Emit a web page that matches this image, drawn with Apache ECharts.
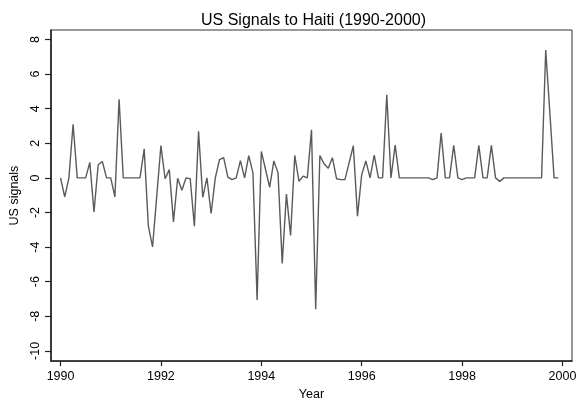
<!DOCTYPE html>
<html>
<head>
<meta charset="utf-8">
<script src="https://cdn.jsdelivr.net/npm/echarts@6/dist/echarts.min.js"></script>
<style>html,body{margin:0;padding:0;background:#fff;}#c{width:580px;height:406px;}</style>
</head>
<body>
<div id="c"></div>
<script>
// Monthly US signals, Jan 1990 .. Dec 1999
var startYear = 1990;
var signals = [
  0, -1.1, 0, 3.1, 0, 0, 0, 0.9, -1.97, 0.76, 0.95, 0,
  0, -1.1, 4.55, 0, 0, 0, 0, 0, 1.68, -2.79, -3.99, -1.05,
  1.87, -0.05, 0.48, -2.54, -0.02, -0.71, 0, -0.05, -2.79, 2.69, -1.12, 0,
  -2.06, 0, 1.05, 1.17, 0.05, -0.1, 0, 1.0, 0, 1.29, 0.29, -7.05,
  1.53, 0.5, -0.54, 0.98, 0.29, -4.94, -0.94, -3.33, 1.3, -0.19, 0.1, 0,
  2.78, -7.59, 1.29, 0.82, 0.56, 1.17, -0.05, -0.1, -0.1, 0.88, 1.86, -2.21,
  0.19, 0.98, 0, 1.32, 0, 0, 4.8, 0, 1.9, 0, 0, 0,
  0, 0, 0, 0, 0, -0.1, 0, 2.59, 0, 0, 1.88, 0,
  -0.1, 0, 0, 0, 1.88, 0, 0, 1.88, 0, -0.2, 0, 0,
  0, 0, 0, 0, 0, 0, 0, 0, 7.39, 3.7, 0, 0
];
var xTicks = [1990, 1992, 1994, 1996, 1998, 2000];
var yTicks = [-10, -8, -6, -4, -2, 0, 2, 4, 6, 8];

var points = signals.map(function (v, i) { return [startYear + i / 12, v]; });

var font = 'Liberation Sans, Arial, sans-serif';
var chart = echarts.init(document.getElementById('c'), null, {renderer: 'canvas'});
chart.setOption({
  animation: false,
  backgroundColor: '#fff',
  title: {
    text: 'US Signals to Haiti (1990-2000)',
    left: 196, top: 8,
    textStyle: {fontFamily: font, fontSize: 16, fontWeight: 'normal', color: '#000'}
  },
  grid: {left: 51, right: 8, top: 30, bottom: 44, show: true, borderColor: '#333', borderWidth: 1, containLabel: false},
  xAxis: {
    type: 'value', min: 1989.81, max: 2000.19,
    name: 'Year', nameLocation: 'middle', nameGap: 25,
    nameTextStyle: {fontFamily: font, fontSize: 12.5, color: '#000'},
    axisLine: {show: true, onZero: false, lineStyle: {color: '#222', width: 1.6}},
    axisTick: {show: true, length: 5, customValues: xTicks, lineStyle: {color: '#222', width: 1.2}},
    axisLabel: {customValues: xTicks, margin: 9, fontFamily: font, fontSize: 12.5, color: '#000', formatter: function (v) { return String(Math.round(v)); }},
    splitLine: {show: false}
  },
  yAxis: {
    type: 'value', min: -10.59, max: 8.55,
    name: 'US signals', nameLocation: 'middle', nameGap: 26,
    nameTextStyle: {fontFamily: font, fontSize: 12.5, color: '#000'},
    axisLine: {show: true, onZero: false, lineStyle: {color: '#222', width: 1.6}},
    axisTick: {show: true, length: 6, customValues: yTicks, lineStyle: {color: '#222', width: 1.2}},
    axisLabel: {customValues: yTicks, rotate: 90, margin: 9, fontFamily: font, fontSize: 12.5, color: '#000'},
    splitLine: {show: false}
  },
  series: [{
    type: 'line', data: points, showSymbol: false, symbol: 'none',
    lineStyle: {color: '#5a5a5a', width: 1.4}
  }]
});
</script>
</body>
</html>
